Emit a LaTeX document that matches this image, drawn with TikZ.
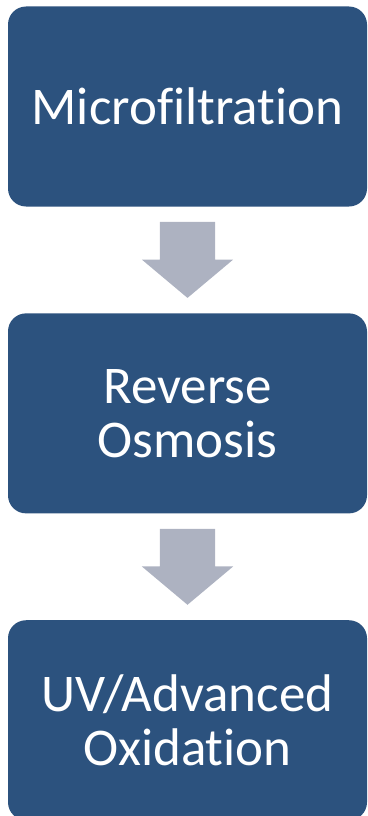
\documentclass[tikz,border=0pt]{standalone}
\usepackage{fontspec}
\setmainfont{Carlito}[Ligatures=NoCommon]
\usetikzlibrary{positioning,shapes.arrows}
\definecolor{stageblue}{RGB}{44,82,126}
\definecolor{arrowgray}{RGB}{173,178,193}
\tikzset{
  stage/.style={fill=stageblue, rounded corners=18pt, minimum width=359pt,
    minimum height=200pt, inner sep=0pt, align=center, text=white,
    font=\fontsize{53}{54}\selectfont},
  downarrow/.style={single arrow, shape border rotate=270, fill=arrowgray,
    minimum height=76pt, minimum width=91pt, single arrow head extend=18pt,
    single arrow tip angle=100, inner xsep=27.5pt, inner ysep=0pt}
}
\begin{document}
\begin{tikzpicture}[node distance=15pt]
  \useasboundingbox (0pt,0pt) rectangle (367pt,-816pt);
  \node[stage] (mf) at (187.5pt,-106.5pt) {Microfiltration};
  \node[downarrow, below=of mf] (a1) {};
  \node[stage, below=of a1] (ro) {Reverse\\Osmosis};
  \node[downarrow, below=of ro] (a2) {};
  \node[stage, below=of a2] (uv) {UV/Advanced\\Oxidation};
\end{tikzpicture}
\end{document}
